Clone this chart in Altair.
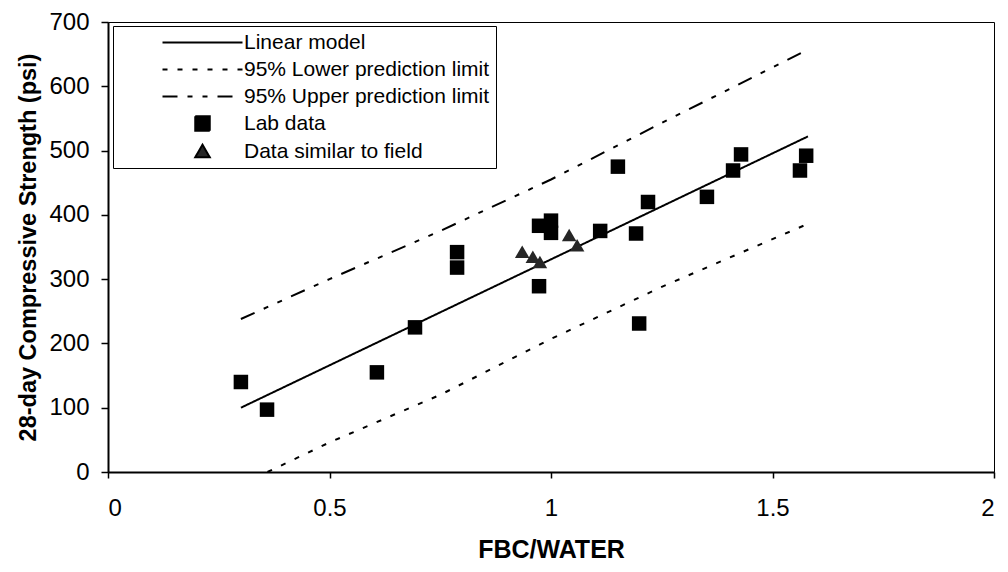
import altair as alt
import pandas as pd

# Lab data (squares)
lab_x = [0.300, 0.359, 0.607, 0.693, 0.788, 0.788, 0.973, 0.973, 1.000, 1.000,
         1.111, 1.151, 1.192, 1.199, 1.219, 1.352, 1.411, 1.429, 1.562, 1.576]
lab_y = [140, 97, 155, 225, 342, 318, 289, 383, 391, 372,
         375, 475, 371, 231, 420, 428, 469, 494, 469, 492]

# Data similar to field (triangles)
field_x = [0.935, 0.959, 0.975, 1.041, 1.059]
field_y = [342, 334, 326, 368, 352]

# Linear model and prediction limits
model_x = [0.30, 1.58]
model_y = [100, 522]
lower_x = [0.36, 0.50, 0.75, 1.00, 1.25, 1.58]
lower_y = [0, 46, 120, 207, 288, 386]
upper_x = [0.30, 0.50, 0.75, 1.00, 1.25, 1.58]
upper_y = [238, 300, 375, 455, 543, 657]

series = ["Linear model", "95% Lower prediction limit", "95% Upper prediction limit",
          "Lab data", "Data similar to field"]
dashes = [[1, 0], [5, 10], [15, 10, 5, 10, 5, 10], [1, 0], [1, 0]]
shapes = ["M-8,0H8", "M-8,0H8", "M-8,0H8",
          "M-1.45,-1.45H1.45V1.45H-1.45Z", "M0,-1.35L1.45,1.15H-1.45Z"]

x_ticks = [0, 0.5, 1, 1.5, 2]
y_ticks = [0, 100, 200, 300, 400, 500, 600, 700]

lines = pd.concat([
    pd.DataFrame({"x": model_x, "y": model_y, "series": series[0]}),
    pd.DataFrame({"x": lower_x, "y": lower_y, "series": series[1]}),
    pd.DataFrame({"x": upper_x, "y": upper_y, "series": series[2]}),
])
points = pd.concat([
    pd.DataFrame({"x": lab_x, "y": lab_y, "series": series[3]}),
    pd.DataFrame({"x": field_x, "y": field_y, "series": series[4]}),
])

FONT = "Liberation Sans"

legend = alt.Legend(
    title=None, orient="none", legendX=5, legendY=4,
    strokeColor="black", fillColor="white", padding=6, cornerRadius=0,
    labelFont=FONT, labelFontSize=21, labelColor="black", labelLimit=0,
    symbolSize=100, symbolStrokeWidth=2, symbolStrokeColor="black",
    symbolFillColor="black", symbolOffset=73, labelOffset=31, rowPadding=5,
)

xenc = alt.X("x:Q", scale=alt.Scale(domain=[0, 2], nice=False),
             axis=alt.Axis(title="FBC/WATER", values=x_ticks, format="~g",
                           tickSize=6, labelPadding=18, titlePadding=17,
                           titleFontSize=25, labelFontSize=24))
yenc = alt.Y("y:Q", scale=alt.Scale(domain=[0, 700], nice=False),
             axis=alt.Axis(title="28-day Compressive Strength (psi)", values=y_ticks,
                           tickSize=7, labelPadding=12, titlePadding=8,
                           titleFontSize=23.5, labelFontSize=24))

line_layer = alt.Chart(lines).mark_line(color="black", strokeWidth=2).encode(
    x=xenc, y=yenc,
    detail="series:N",
    strokeDash=alt.StrokeDash("series:N", scale=alt.Scale(domain=series, range=dashes),
                              legend=legend),
)

point_layer = alt.Chart(points).mark_point(filled=True, opacity=1, size=100).encode(
    x=xenc, y=yenc,
    shape=alt.Shape("series:N", scale=alt.Scale(domain=series, range=shapes),
                    legend=legend),
    color=alt.Color("series:N", scale=alt.Scale(domain=series,
                    range=["black", "black", "black", "black", "#262626"]), legend=None),
)

chart = alt.layer(line_layer, point_layer).properties(
    width=886, height=450,
    autosize=alt.AutoSizeParams(type="none"),
    padding={"left": 100, "top": 14, "right": 6, "bottom": 96},
).configure(font=FONT).configure_view(
    stroke="black", strokeWidth=1
).configure_axis(
    grid=False, domainColor="black", domainWidth=2, tickColor="black", tickWidth=1.5,
    labelColor="black", titleColor="black", labelFont=FONT, titleFont=FONT,
    titleFontWeight="bold", labelFontWeight="normal",
)

chart.save("out.html", embed_options={"renderer": "svg", "actions": False})
